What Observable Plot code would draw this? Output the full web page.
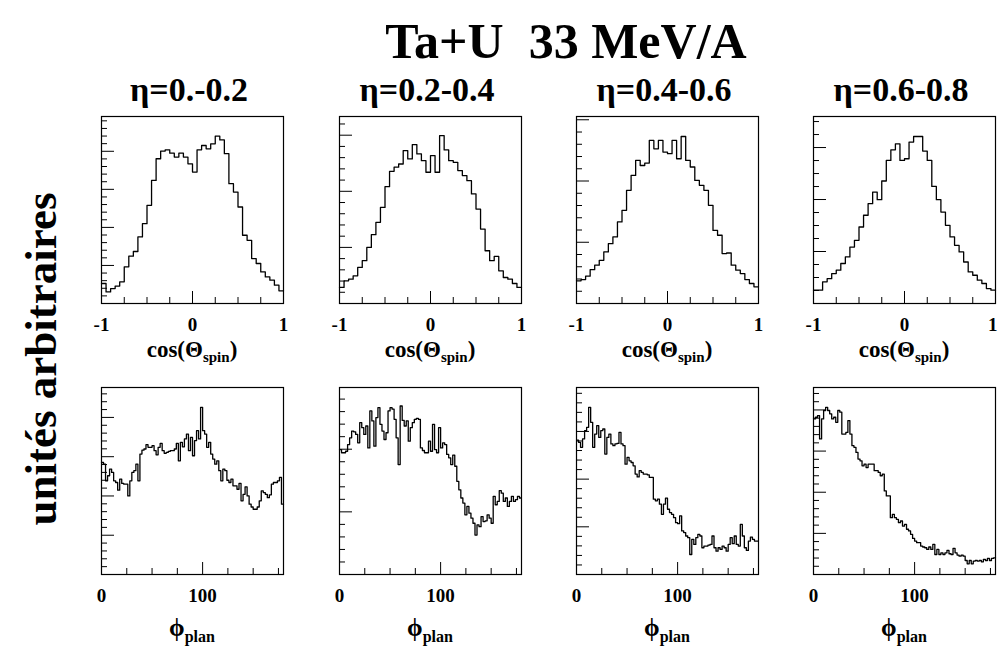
<!DOCTYPE html>
<html><head><meta charset="utf-8">
<script src="https://cdn.jsdelivr.net/npm/d3@7"></script>
<script src="https://cdn.jsdelivr.net/npm/@observablehq/plot@0.6"></script>
<style>
html,body{margin:0;padding:0;background:#fff;overflow:hidden;}
#root{position:relative;width:998px;height:649px;overflow:hidden;}
#root svg.plot-panel{position:absolute;background:transparent;}
#overlay{position:absolute;left:0;top:0;}
</style></head><body><div id="root"></div>
<script>
// ---------- data ----------
const title = "Ta+U  33 MeV/A";
const yLabel = "unités arbitraires";
const etaLabels = ["η=0.-0.2", "η=0.2-0.4", "η=0.4-0.6", "η=0.6-0.8"];
const cosDomain = [-1, 1];
const phiDomain = [0, 180];
const cosTickLabels = [-1, 0, 1];
const phiTickLabels = [0, 100];
const cosMinorTicks = [-0.75, -0.5, -0.25, 0.25, 0.5, 0.75];
const cosMajorTicks = [0];
const phiMinorTicks = [25, 50, 75, 125, 150, 175];
const phiMajorTicks = [100];

// cos(Theta_spin) distributions, 40 bins from -1 to 1 (arbitrary units)
const cosEta1 = [10.7,6.2,8.0,9.3,11.6,19.6,25.3,27.8,35.6,42.7,52.5,65.8,77.4,81.5,82.2,80.4,78.3,80.4,78.3,74.7,70.3,82.2,84.5,82.7,85.4,89.5,87.5,80.1,64.1,59.6,51.6,36.5,33.8,24.0,21.4,16.9,14.2,12.5,9.8,6.8];
const cosEta2 = [8.6,12.1,13.0,14.8,19.3,22.9,30.0,36.8,43.4,51.4,62.5,70.7,72.9,74.6,81.8,77.3,85.0,80.0,76.4,70.2,79.1,70.2,89.8,82.1,76.4,75.5,71.1,68.4,65.7,58.6,50.5,39.8,28.2,22.9,25.2,17.5,13.9,13.0,10.7,8.6];
const cosEta3 = [12.1,12.8,14.6,18.1,20.5,23.1,27.6,32.0,35.6,43.6,49.8,60.5,68.5,76.5,73.8,75.1,87.2,82.7,87.2,81.0,80.1,87.2,77.4,89.3,76.5,73.0,65.8,63.2,60.5,52.5,39.1,36.5,26.7,27.0,20.5,17.8,16.0,12.8,10.7,8.9];
const cosEta4 = [7.1,7.1,11.6,13.3,16.0,17.8,21.4,24.9,30.2,33.8,40.9,47.2,53.4,59.6,55.5,65.5,76.5,82.2,85.4,76.5,77.4,86.3,89.3,89.3,81.5,76.5,62.6,55.5,48.9,41.8,35.6,31.1,27.6,22.2,16.9,15.1,12.5,10.7,8.0,7.1];

// phi_plan distributions, 90 bins from 0 to 180 deg (arbitrary units)
const phiEta1 = [59.9,59.0,50.1,52.8,56.4,54.6,50.1,49.2,45.1,51.0,48.7,48.3,48.3,42.0,50.1,54.6,55.5,59.0,50.1,64.4,66.5,67.1,69.4,68.0,68.0,68.9,66.2,64.0,68.0,70.1,66.2,64.8,65.3,65.8,66.2,66.2,67.1,70.1,60.8,70.7,68.3,72.5,75.1,66.2,73.3,63.5,71.6,76.9,72.5,89.4,76.9,75.1,68.0,70.7,64.4,61.7,59.0,60.8,55.5,50.1,56.4,55.5,50.4,49.2,51.0,47.4,47.4,45.6,48.7,39.4,42.9,46.9,42.0,37.6,36.1,34.9,34.9,36.1,39.4,44.7,43.8,42.9,41.1,42.6,48.3,49.2,49.2,50.1,51.9,37.6];
const phiEta2 = [66.8,65.1,65.1,65.9,69.5,73.1,76.7,76.3,74.9,70.4,81.2,78.5,74.9,79.4,67.7,87.5,82.1,68.6,83.9,89.2,80.3,76.7,72.2,75.8,87.5,89.2,88.4,83.0,73.1,58.8,90.1,82.4,79.4,82.1,71.3,78.5,81.2,83.0,83.5,83.0,67.7,66.3,65.1,65.1,71.3,65.9,80.3,66.8,65.1,78.5,67.7,70.4,69.5,64.2,62.4,58.8,63.8,57.9,49.8,45.3,40.9,38.2,31.9,36.4,32.8,30.1,27.4,21.1,26.5,25.6,31.0,28.3,28.7,31.9,30.1,27.4,41.8,37.3,39.1,44.8,43.5,39.1,40.9,36.4,39.1,41.8,39.1,40.0,41.8,40.9];
const phiEta3 = [71.9,70.7,68.0,72.5,76.9,78.7,89.4,81.4,68.0,75.1,79.6,73.3,76.9,77.8,64.4,73.3,75.1,69.8,68.9,69.8,70.1,76.0,69.8,68.9,59.0,62.6,60.8,59.9,58.1,53.7,52.2,55.5,54.6,53.7,53.7,53.3,51.9,51.9,40.3,39.4,40.3,37.6,32.2,37.6,40.8,34.9,33.1,32.2,30.4,27.7,27.2,31.3,23.3,22.4,20.6,19.7,10.7,18.8,16.1,19.7,21.5,20.6,14.3,15.2,15.2,15.7,16.1,20.6,14.3,12.5,14.3,13.4,15.2,14.3,12.5,16.1,19.7,16.5,20.6,16.1,15.2,26.8,20.6,14.3,12.9,17.9,20.0,18.8,17.9,17.9];
const phiEta4 = [83.2,84.1,85.0,72.5,83.2,87.7,89.4,87.7,85.9,83.2,84.1,81.4,87.7,86.8,75.1,75.1,76.0,82.3,75.1,68.9,68.0,65.3,61.7,60.8,58.1,59.0,57.2,59.0,59.0,59.0,55.5,55.5,54.6,52.8,53.7,44.7,42.0,42.0,30.4,32.2,30.4,29.5,27.7,28.6,25.9,26.8,24.2,23.3,21.5,19.3,17.9,17.0,17.0,15.2,14.7,14.3,13.4,14.7,13.4,16.1,10.7,13.4,10.7,11.6,10.7,11.6,12.9,11.1,10.7,14.0,11.6,10.4,9.8,10.4,9.8,7.5,5.7,7.5,5.7,7.2,7.5,7.2,7.5,6.8,8.1,7.5,8.6,7.5,8.6,8.9];

// y tick spacing per panel (arbitrary units) and major-tick period
const cosYStep = [4.07, 6.0, 6.55, 6.95];
const cosYMajorEvery = [5, 5, 5, 4];
const phiYStep = [4.2, 6.7, 5.1, 4.4];
const phiYMajorEvery = [5, 5, 5, 5];

// ---------- layout ----------
const FONT = '"Liberation Serif","Times New Roman",serif';
const W = 182, H = 187;
const ML = 22, MR = 22, MT = 1, MB = 40;
const colLeft = [101, 339, 576, 813];
const rowTop = [116, 387];

const root = document.getElementById("root");

function drawPanel(values, domain, left, top, yStep, majorEvery, minorX, majorX, labels, lastCol) {
  const n = values.length;
  const w = (domain[1] - domain[0]) / n;
  const pts = values.map((v, i) => ({x: domain[0] + i * w, y: v}));
  pts.push({x: domain[1], y: values[n - 1]});
  const yt = d3.range(1, Math.floor(99.9 / yStep) + 1).map(k => ({y: k * yStep, major: k % majorEvery === 0}));
  const pxX = (domain[1] - domain[0]) / W;
  const pxY = 100 / H;
  const midLabels = labels.filter(d => !(lastCol && d === domain[1]));
  const endLabels = labels.filter(d => lastCol && d === domain[1]);
  const labelOpts = {x: d => d, y: 0, text: d => String(d), dy: 21, fill: "#000",
    fontSize: 19, fontWeight: "bold", fontFamily: FONT, lineAnchor: "middle"};
  const chart = Plot.plot({
    width: W + ML + MR, height: H + MT + MB,
    marginLeft: ML, marginRight: MR, marginTop: MT, marginBottom: MB,
    style: {fontFamily: FONT, fontSize: "19px", fontWeight: "bold", color: "#000", background: "transparent", overflow: "visible"},
    x: {domain, axis: null},
    y: {domain: [0, 100], axis: null},
    marks: [
      Plot.ruleY(yt, {y: "y", x1: domain[0], x2: d => domain[0] + (d.major ? 13 : 6) * pxX, stroke: "#000", strokeWidth: 1}),
      Plot.ruleX(minorX, {x: d => d, y1: 0, y2: 6 * pxY, stroke: "#000", strokeWidth: 1}),
      Plot.ruleX(majorX, {x: d => d, y1: 0, y2: 12 * pxY, stroke: "#000", strokeWidth: 1}),
      Plot.line(pts, {x: "x", y: "y", curve: "step-after", stroke: "#000", strokeWidth: 1.3}),
      Plot.frame({stroke: "#000", strokeWidth: 1.2}),
      Plot.text(midLabels, {...labelOpts, textAnchor: "middle"}),
      Plot.text(endLabels, {...labelOpts, textAnchor: "end", dx: 2})
    ]
  });
  chart.classList.add("plot-panel");
  chart.style.left = (left - ML) + "px";
  chart.style.top = (top - MT) + "px";
  root.appendChild(chart);
}

const cosData = [cosEta1, cosEta2, cosEta3, cosEta4];
const phiData = [phiEta1, phiEta2, phiEta3, phiEta4];
for (let c = 0; c < 4; c++) {
  drawPanel(cosData[c], cosDomain, colLeft[c], rowTop[0], cosYStep[c], cosYMajorEvery[c], cosMinorTicks, cosMajorTicks, cosTickLabels, c === 3);
  drawPanel(phiData[c], phiDomain, colLeft[c], rowTop[1], phiYStep[c], phiYMajorEvery[c], phiMinorTicks, phiMajorTicks, phiTickLabels, c === 3);
}

// ---------- text overlay ----------
const svg = d3.select(root).append("svg").attr("id", "overlay")
  .attr("width", 998).attr("height", 649)
  .style("font-family", FONT).style("font-weight", "bold");

svg.append("text").attr("x", 566).attr("y", 58).attr("text-anchor", "middle")
  .attr("font-size", 50).style("white-space", "pre").text(title);

svg.append("text").attr("transform", "translate(56,359) rotate(-90)").attr("text-anchor", "middle")
  .attr("font-size", 45).text(yLabel);

for (let c = 0; c < 4; c++) {
  const cx = colLeft[c] + W / 2;
  svg.append("text").attr("x", cx - 3).attr("y", 101).attr("text-anchor", "middle")
    .attr("font-size", 34).text(etaLabels[c]);
  const t1 = svg.append("text").attr("x", cx).attr("y", 357).attr("text-anchor", "middle").attr("font-size", 23);
  t1.append("tspan").text("cos(Θ");
  t1.append("tspan").attr("font-size", 15).attr("dy", 5).text("spin");
  t1.append("tspan").attr("dy", -5).text(")");
  const t2 = svg.append("text").attr("x", cx).attr("y", 636).attr("text-anchor", "middle").attr("font-size", 25);
  t2.append("tspan").text("ϕ");
  t2.append("tspan").attr("font-size", 16).attr("dy", 6).text("plan");
}
</script></body></html>
